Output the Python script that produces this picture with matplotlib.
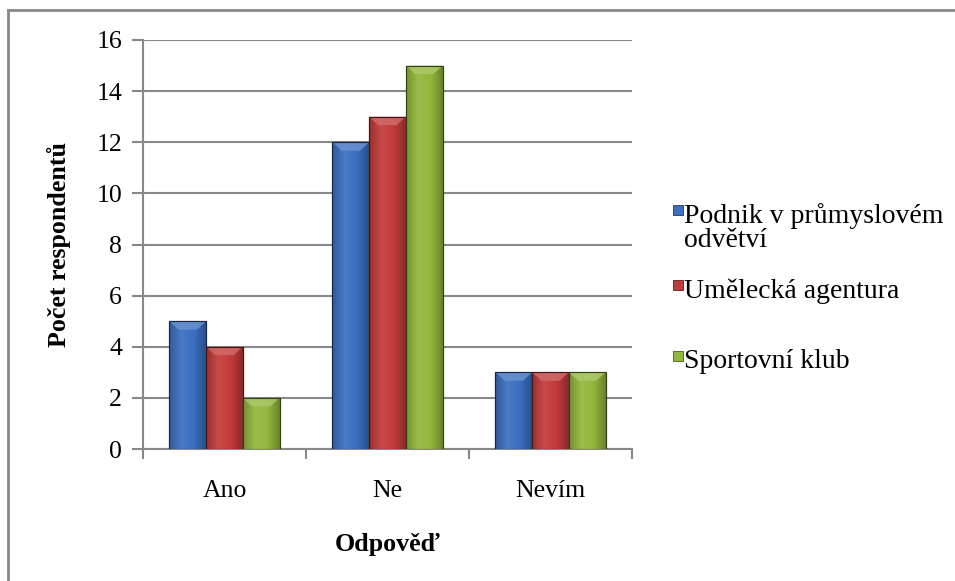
import matplotlib.pyplot as plt
import numpy as np
from matplotlib.lines import Line2D
from matplotlib.patches import Rectangle, Polygon
from matplotlib.colors import LinearSegmentedColormap, to_rgb

categories = ['Ano', 'Ne', 'Nevím']
series = ['Podnik v průmyslovém\nodvětví', 'Umělecká agentura', 'Sportovní klub']
podnik = [5, 12, 3]
agentura = [4, 13, 3]
klub = [2, 15, 3]
colors = ['#3b6fc1', '#c23b3a', '#93b73c']

plt.rcParams['font.family'] = ['Liberation Serif', 'DejaVu Serif']

W, H = 955, 581


def fx(px):
    return px / W


def fy(py):
    return 1 - py / H


def shade(c, f):
    r = np.array(to_rgb(c))
    if f > 1:
        return tuple(r + (1 - r) * (f - 1))
    return tuple(r * f)


fig = plt.figure(figsize=(9.55, 5.81), dpi=100)
ax = fig.add_axes([fx(143), fy(449), fx(632) - fx(143), fy(40) - fy(449)])

x = np.arange(len(categories))
width = 0.225
for i, (vals, c) in enumerate(zip([podnik, agentura, klub], colors)):
    bars = ax.bar(x + (i - 1) * width, vals, width, color=c,
                  edgecolor=shade(c, 0.35), linewidth=0.8, zorder=3)
    cmap = LinearSegmentedColormap.from_list(
        'g', [shade(c, 0.8), shade(c, 1.08), c, shade(c, 0.72)])
    for b in bars:
        x0, w, h = b.get_x(), b.get_width(), b.get_height()
        im = ax.imshow(np.linspace(0, 1, 50)[None, :], extent=[x0, x0 + w, 0, h],
                       aspect='auto', cmap=cmap, zorder=3.2, interpolation='bilinear')
        im.set_clip_path(b)
        d = 0.33
        ax.add_patch(Polygon([[x0, h], [x0 + w, h], [x0 + w * 0.75, h - d], [x0 + w * 0.25, h - d]],
                             closed=True, facecolor=shade(c, 1.25), edgecolor='none',
                             alpha=0.8, zorder=3.4))
        ax.add_patch(Rectangle((x0, 0), w, h, fill=False, edgecolor=shade(c, 0.35),
                               linewidth=0.8, zorder=3.5))

ax.set_xlim(-0.5, 2.5)
ax.set_ylim(0, 16)
ax.set_yticks(range(0, 17, 2))
ax.set_xticks(x, categories)
ax.set_xticks([-0.5, 0.5, 1.5, 2.5], minor=True)
ax.tick_params(axis='x', which='major', length=0, pad=22, labelsize=18.5)
ax.tick_params(axis='x', which='minor', length=7, width=1.5, color='#888888', direction='out')
ax.tick_params(axis='y', length=8, width=1.5, color='#888888', labelsize=18.5, pad=7)
ax.grid(axis='y', color='#888888', linewidth=1.5, zorder=0)
ax.set_axisbelow(True)
for s in ['top', 'right']:
    ax.spines[s].set_visible(False)
for s in ['left', 'bottom']:
    ax.spines[s].set_color('#888888')
    ax.spines[s].set_linewidth(1.5)

ax.set_ylabel('Počet respondentů', fontsize=18.7, fontweight='bold', labelpad=18)
ax.set_xlabel('Odpověď', fontsize=18.7, fontweight='bold', labelpad=23)

# legend drawn by hand so the marker sits on the first line of the wrapped label
leg_top = [204, 279, 350]
for lab, c, ty in zip(series, colors, leg_top):
    fig.add_artist(Rectangle((fx(673), fy(ty + 11)), fx(10), 10 / H, transform=fig.transFigure,
                             facecolor=c, edgecolor=shade(c, 0.5), linewidth=0.6))
    fig.text(fx(684), fy(ty - 1), lab, fontsize=20, va='top', ha='left', linespacing=0.97)

# outer frame (only top and left visible)
fig.add_artist(Line2D([fx(8), 1.0], [fy(10), fy(10)], transform=fig.transFigure,
                      color='#888888', linewidth=2))
fig.add_artist(Line2D([fx(8), fx(8)], [0.0, fy(10)], transform=fig.transFigure,
                      color='#888888', linewidth=2))

fig.savefig('out.png', dpi=100)
